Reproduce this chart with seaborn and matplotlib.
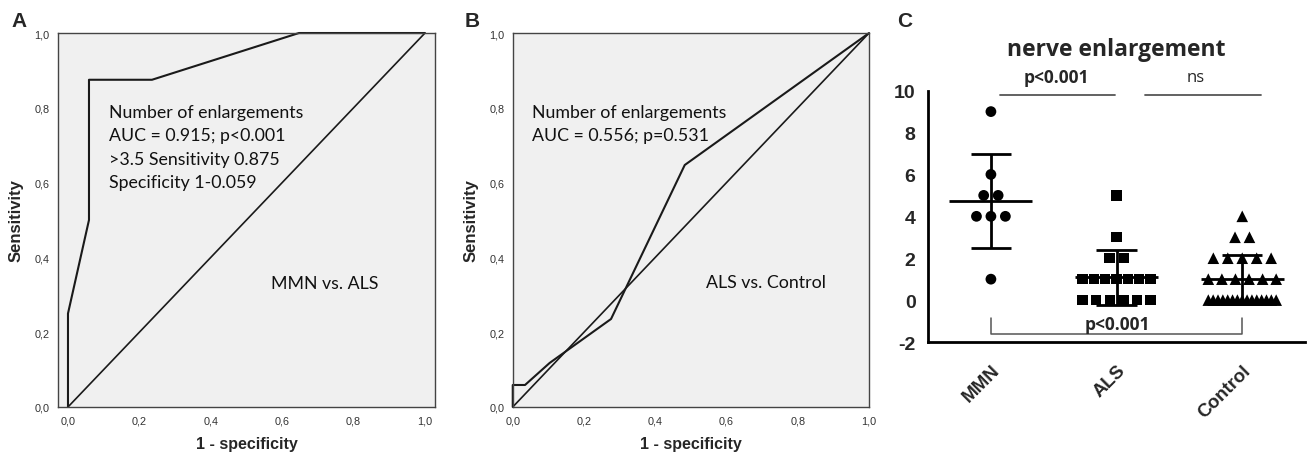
import numpy as np
import pandas as pd
import matplotlib
matplotlib.use("Agg")
import matplotlib.pyplot as plt
import seaborn as sns

sns.set_style("white")
plt.rcParams["font.family"] = ["Liberation Sans", "DejaVu Sans"]

# ---------------- data ----------------
mmn = [9, 6, 5, 5, 4, 4, 4, 1]
als = [5, 3, 2, 2, 1, 1, 1, 1, 1, 1, 1, 0, 0, 0, 0, 0, 0]
control = [4, 3, 3, 2, 2, 2, 2, 2, 1, 1, 1, 1, 1, 1] + [0] * 15
groups = ["MMN", "ALS", "Control"]
group_means = [4.73, 1.10, 1.00]
group_sds = [2.25, 1.31, 1.17]

roc_ticks = [0.0, 0.2, 0.4, 0.6, 0.8, 1.0]
roc_tick_labels = ["0,0", "0,2", "0,4", "0,6", "0,8", "1,0"]
c_yticks = [-2, 0, 2, 4, 6, 8, 10]

textA = ["Number of enlargements", "AUC = 0.915; p<0.001",
         ">3.5 Sensitivity 0.875", "Specificity 1-0.059"]
textB = ["Number of enlargements", "AUC = 0.556; p=0.531"]


def roc_points(pos, neg):
    pos = np.asarray(pos)
    neg = np.asarray(neg)
    cuts = sorted(set(pos) | set(neg), reverse=True)
    fpr, tpr = [0.0], [0.0]
    for c in cuts:
        tpr.append(np.mean(pos >= c))
        fpr.append(np.mean(neg >= c))
    return fpr, tpr


def offsets(vals, step=0.115, half=0.27):
    vals = np.asarray(vals)
    off = np.zeros(len(vals))
    for v in np.unique(vals):
        idx = np.where(vals == v)[0]
        n = len(idx)
        if n > 1:
            s = min(step, 2 * half / (n - 1))
            off[idx] = (np.arange(n) - (n - 1) / 2) * s
    return off


fig = plt.figure(figsize=(13.09, 4.56), dpi=100)

TEXT_FONT = ["Lato", "DejaVu Sans"]
OPEN = ["Open Sans", "DejaVu Sans"]


def style_roc(ax, xlim):
    ax.set_facecolor("#f0f0f0")
    ax.set_xlim(*xlim)
    ax.set_ylim(0, 1)
    ax.set_xticks(roc_ticks)
    ax.set_xticklabels(roc_tick_labels)
    ax.set_yticks(roc_ticks)
    ax.set_yticklabels(roc_tick_labels)
    for s in ax.spines.values():
        s.set_color("#444444")
        s.set_linewidth(1.0)
    ax.tick_params(axis="both", direction="out", length=4, width=0.9,
                   color="#444444", labelsize=7.8, labelcolor="#333333", pad=2)
    ax.set_xlabel("1 - specificity", fontsize=11.5, fontweight="bold", labelpad=8)
    ax.set_ylabel("Sensitivity", fontsize=12, fontweight="bold", labelpad=8)


# ---------------- Panel A ----------------
axA = fig.add_axes([0.0443, 0.1053, 0.288, 0.8201])
fa, ta = roc_points(mmn, als)
sns.lineplot(x=fa, y=ta, sort=False, estimator=None, color="#1a1a1a",
             linewidth=1.5, ax=axA, clip_on=False)
sns.lineplot(x=[0, 1], y=[0, 1], sort=False, estimator=None, color="#1a1a1a",
             linewidth=1.2, ax=axA)
style_roc(axA, (-0.028, 1.028))
for i, line in enumerate(textA):
    axA.text(0.115, 0.789 - i * 0.0625, line, fontsize=12.8, family=TEXT_FONT,
             va="center", ha="left", color="#111111")
axA.text(0.57, 0.332, "MMN vs. ALS", fontsize=12.8, family=TEXT_FONT,
         va="center", ha="left", color="#111111")

# ---------------- Panel B ----------------
axB = fig.add_axes([0.3917, 0.1053, 0.2722, 0.8201])
fb, tb = roc_points(als, control)
sns.lineplot(x=fb, y=tb, sort=False, estimator=None, color="#1a1a1a",
             linewidth=1.5, ax=axB, clip_on=False)
sns.lineplot(x=[0, 1], y=[0, 1], sort=False, estimator=None, color="#1a1a1a",
             linewidth=1.2, ax=axB)
style_roc(axB, (0, 1))
for i, line in enumerate(textB):
    axB.text(0.053, 0.789 - i * 0.0625, line, fontsize=12.8, family=TEXT_FONT,
             va="center", ha="left", color="#111111")
axB.text(0.542, 0.334, "ALS vs. Control", fontsize=12.8, family=TEXT_FONT,
         va="center", ha="left", color="#111111")

# ---------------- Panel C ----------------
axC = fig.add_axes([0.709, 0.2478, 0.288, 0.5512])
rows = []
for gi, (g, vals) in enumerate(zip(groups, [mmn, als, control])):
    off = offsets(vals)
    for v, o in zip(vals, off):
        rows.append({"group": g, "value": v, "x": gi + o})
df = pd.DataFrame(rows)
sns.scatterplot(data=df, x="x", y="value", style="group", size="group",
                markers={"MMN": "o", "ALS": "s", "Control": "^"},
                sizes={"MMN": 60, "ALS": 55, "Control": 70},
                color="black", edgecolor="black", linewidth=0, legend=False,
                ax=axC, clip_on=False, zorder=3)
for gi, (m, sd) in enumerate(zip(group_means, group_sds)):
    axC.hlines(m, gi - 0.33, gi + 0.33, color="black", lw=2, zorder=4)
    axC.vlines(gi, m - sd, m + sd, color="black", lw=2, zorder=4)
    axC.hlines([m - sd, m + sd], gi - 0.16, gi + 0.16, color="black", lw=2, zorder=4)

axC.set_xlim(-0.5, 2.5)
axC.set_ylim(-2, 10)
axC.set_yticks(c_yticks)
axC.set_yticklabels([str(t) for t in c_yticks], fontweight="bold", fontsize=14)
axC.set_xticks([0, 1, 2])
axC.set_xticklabels(groups, rotation=45, ha="right", rotation_mode="anchor",
                    fontweight="bold", fontsize=13.5)
axC.set_xlabel("")
axC.set_ylabel("")
for side in ["top", "right"]:
    axC.spines[side].set_visible(False)
for side in ["left", "bottom"]:
    axC.spines[side].set_linewidth(2)
    axC.spines[side].set_color("black")
axC.tick_params(axis="both", direction="out", length=6, width=2, color="black", pad=3)
axC.tick_params(axis="x", pad=8)

axC.set_title("nerve enlargement", fontsize=16.5, fontweight="bold",
              family=OPEN, pad=26)

# significance annotations
axC.plot([0.07, 0.99], [9.81, 9.81], color="#555555", lw=1.3, clip_on=False)
axC.plot([1.23, 2.15], [9.81, 9.81], color="#555555", lw=1.3, clip_on=False)
axC.text(0.52, 10.65, "p<0.001", ha="center", va="center", fontsize=12.5,
         fontweight="bold", family=OPEN)
axC.text(1.63, 10.65, "ns", ha="center", va="center", fontsize=12,
         family=OPEN)
axC.plot([0, 0, 2, 2], [-0.85, -1.62, -1.62, -0.85], color="#555555", lw=1.1,
         clip_on=False)
axC.text(1.01, -1.14, "p<0.001", ha="center", va="center", fontsize=12.5,
         fontweight="bold", family=OPEN)

# panel letters
for x, lab in [(0.009, "A"), (0.355, "B"), (0.685, "C")]:
    fig.text(x, 0.952, lab, fontsize=15, fontweight="bold", va="center", ha="left")

fig.savefig("out.png", dpi=100)
